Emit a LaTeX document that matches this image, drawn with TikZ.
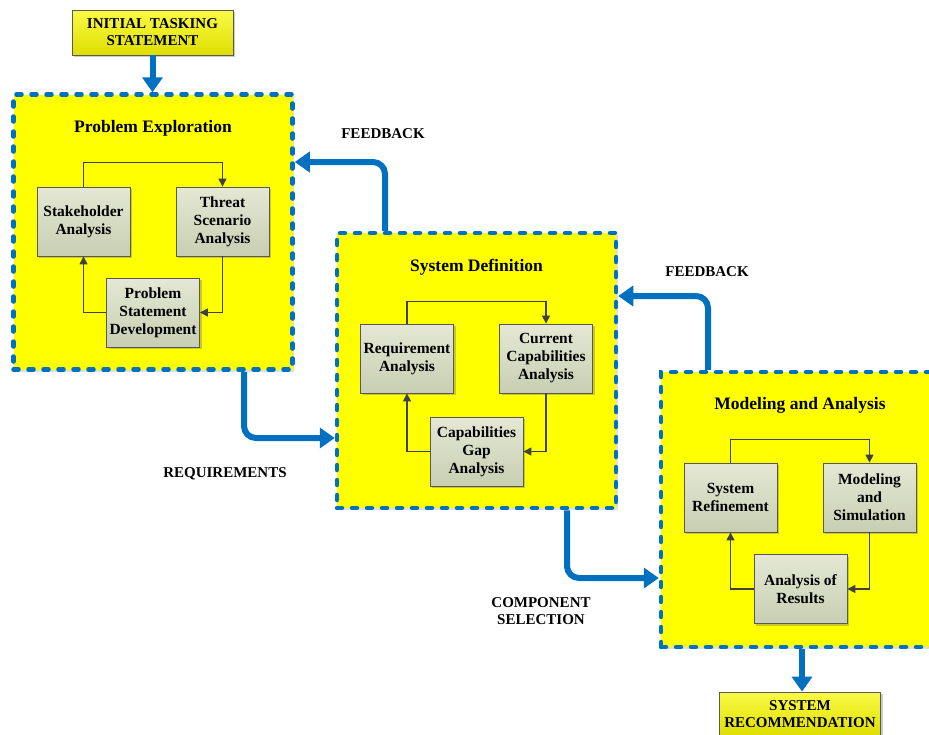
\documentclass[tikz,border=0pt]{standalone}
\usepackage{fontspec}
\setmainfont{Liberation Serif}
\usetikzlibrary{arrows.meta,shadows}
\definecolor{bblue}{RGB}{0,112,192}
\definecolor{byel}{RGB}{255,255,0}
\definecolor{ytop}{RGB}{250,250,70}
\definecolor{ybot}{RGB}{222,222,0}
\definecolor{gtop}{RGB}{228,232,212}
\definecolor{gbot}{RGB}{200,206,178}
\definecolor{lgray}{RGB}{64,64,64}
\tikzset{
  bigbox/.style={draw=bblue, fill=byel, line width=4.5pt, dash pattern=on 5pt off 10pt, line cap=round, minimum width=279pt, minimum height=275pt, inner sep=0pt, drop shadow={shadow xshift=1.5pt, shadow yshift=-2pt, opacity=0.25, fill=black!50}},
  stepbox/.style={draw=black!65, line width=0.8pt, top color=gtop, bottom color=gbot, minimum width=93pt, minimum height=69pt, inner sep=1pt, align=center, font=\bfseries\fontsize{15.5}{18}\selectfont, drop shadow={shadow xshift=2pt, shadow yshift=-2pt, opacity=0.35, fill=black!60}},
  ybox/.style={draw=black!65, line width=0.8pt, top color=ytop, bottom color=ybot, minimum width=161pt, minimum height=45pt, inner sep=1pt, align=center, font=\bfseries\fontsize{15}{17}\selectfont, drop shadow={shadow xshift=2pt, shadow yshift=-2pt, opacity=0.35, fill=black!60}},
  titletext/.style={font=\bfseries\fontsize{17.5}{20}\selectfont, inner sep=0pt},
  lbl/.style={font=\bfseries\fontsize{15}{17}\selectfont, align=center, inner sep=0pt},
  barrow/.style={draw=bblue, line width=6pt, rounded corners=12pt, -{Triangle[width=20pt,length=15pt]}},
  inarrow/.style={draw=lgray, line width=1.2pt, -{Triangle[width=8pt,length=8pt]}},
}
\begin{document}
\begin{tikzpicture}[x=1pt,y=-1pt]
\useasboundingbox (0,0) rectangle (929,734);
\begin{scope}
\clip (0,0) rectangle (929,734);
% big boxes
\node[bigbox] (pe) at (153,232) {};
\node[bigbox] (sd) at (476.5,370.5) {};
\node[bigbox, minimum width=320pt] (ma) at (821,509.5) {};
% titles
\node[titletext] (pet) at (153,128) {Problem Exploration};
\node[titletext] (sdt) at (476.5,267) {System Definition};
\node[titletext] (mat) at (800,405) {Modeling and Analysis};
% start / end boxes
\node[ybox] (init) at (152.5,32.5) {INITIAL TASKING\\STATEMENT};
\node[ybox] (srec) at (800,714.5) {SYSTEM\\RECOMMENDATION};
% problem exploration steps
\node[stepbox] (st) at (83.5,221.5) {Stakeholder\\Analysis};
\node[stepbox] (th) at (222.5,221.5) {Threat\\Scenario\\Analysis};
\node[stepbox] (psd) at (153,312.5) {Problem\\Statement\\Development};
% system definition steps
\node[stepbox] (req) at (407,358.5) {Requirement\\Analysis};
\node[stepbox] (cc) at (546,358.5) {Current\\Capabilities\\Analysis};
\node[stepbox] (gap) at (476.5,451.5) {Capabilities\\Gap\\Analysis};
% modeling and analysis steps
\node[stepbox] (sr) at (730.5,497.5) {System\\Refinement};
\node[stepbox] (ms) at (869.5,497.5) {Modeling\\and\\Simulation};
\node[stepbox] (ar) at (800.5,589) {Analysis of\\Results};
% inner loops
\draw[inarrow] (st.north) -- ++(0,-24) -| (th.north);
\draw[inarrow] (th.south) |- (psd.east);
\draw[inarrow] (psd.west) -| (st.south);
\draw[inarrow] (req.north) -- ++(0,-22) -| (cc.north);
\draw[inarrow] (cc.south) |- (gap.east);
\draw[inarrow] (gap.west) -| (req.south);
\draw[inarrow] (sr.north) -- ++(0,-23) -| (ms.north);
\draw[inarrow] (ms.south) |- (ar.east);
\draw[inarrow] (ar.west) -| (sr.south);
% flow coordinates
\coordinate (fb1) at (385,162);
\coordinate (fb2) at (708,296);
\coordinate (rq) at (244,438);
\coordinate (cs) at (567,578);
\coordinate (dn) at (802,600);
% blue arrows
\draw[barrow] (init.south) -- (init.south |- pe.north);
\draw[barrow] (sd.north -| fb1) |- (pe.east |- fb1);
\draw[barrow] (ma.north -| fb2) |- (sd.east |- fb2);
\draw[barrow] (pe.south -| rq) |- (sd.west |- rq);
\draw[barrow] (sd.south -| cs) |- (ma.west |- cs);
\draw[barrow] (ma.south -| dn) -- (srec.north -| dn);
% labels
\node[lbl] (l1) at (383,134) {FEEDBACK};
\node[lbl] (l2) at (707,272) {FEEDBACK};
\node[lbl] (l3) at (225,474) {REQUIREMENTS};
\node[lbl] (l4) at (541,611) {COMPONENT\\SELECTION};
\end{scope}
\end{tikzpicture}
\end{document}
